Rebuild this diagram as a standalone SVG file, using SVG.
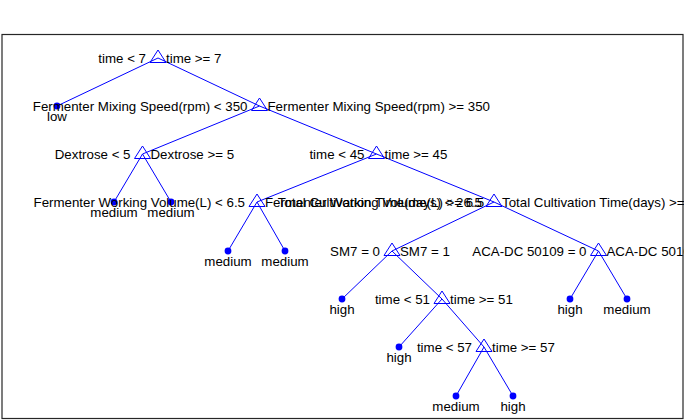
<svg xmlns="http://www.w3.org/2000/svg" xmlns:xlink="http://www.w3.org/1999/xlink" width="684" height="420" viewBox="0 0 684 420">
<style>
.e{stroke:#0000ff;stroke-width:1;fill:none}
.t{fill:none;stroke:#0000ff;stroke-width:1}
.d{fill:#0000ff}
text{font-family:"Liberation Sans",Arial,sans-serif;font-size:13.3px;fill:#000}
.l{text-anchor:end}
.r{text-anchor:start}
.c{text-anchor:middle}
</style>
<defs>
<path id="tri" class="t" d="M0,-8 L8,4.5 L-8,4.5 Z"/>
</defs>
<rect x="2" y="34.5" width="681" height="384" fill="#fff" stroke="#262626" stroke-width="1.2"/>
<g id="connectors">
<path class="e" d="M158,58 L57,106 M158,58 L259.5,106"/>
<path class="e" d="M259.5,106 L142.5,154 M259.5,106 L376.5,154"/>
<path class="e" d="M142.5,154 L114,202 M142.5,154 L171,202"/>
<path class="e" d="M376.5,154 L257,202 M376.5,154 L494,202"/>
<path class="e" d="M257,202 L228,251 M257,202 L285,251"/>
<path class="e" d="M494,202 L392,251 M494,202 L598.5,251"/>
<path class="e" d="M392,251 L342,299 M392,251 L442,299"/>
<path class="e" d="M598.5,251 L570,299 M598.5,251 L627,299"/>
<path class="e" d="M442,299 L399,347 M442,299 L484,347"/>
<path class="e" d="M484,347 L456,396 M484,347 L513,396"/>
</g>
<g id="n0"><use xlink:href="#tri" x="158" y="58"/><text class="l" x="146" y="63">time &lt; 7</text><text class="r" x="166" y="63">time &gt;= 7</text></g>
<g id="n1"><circle class="d" cx="57" cy="106" r="3.4"/><text class="c" x="57" y="121">low</text></g>
<g id="n2"><use xlink:href="#tri" x="259.5" y="106"/><text class="l" x="247.5" y="111">Fermenter Mixing Speed(rpm) &lt; 350</text><text class="r" x="267.5" y="111">Fermenter Mixing Speed(rpm) &gt;= 350</text></g>
<g id="n3"><use xlink:href="#tri" x="142.5" y="154"/><text class="l" x="130.5" y="159">Dextrose &lt; 5</text><text class="r" x="150.5" y="159">Dextrose &gt;= 5</text></g>
<g id="n4"><use xlink:href="#tri" x="376.5" y="154"/><text class="l" x="364.5" y="159">time &lt; 45</text><text class="r" x="384.5" y="159">time &gt;= 45</text></g>
<g id="n5"><circle class="d" cx="114" cy="202" r="3.4"/><text class="c" x="114" y="217">medium</text></g>
<g id="n6"><circle class="d" cx="171" cy="202" r="3.4"/><text class="c" x="171" y="217">medium</text></g>
<g id="n7"><use xlink:href="#tri" x="257" y="202"/><text class="l" x="245" y="207">Fermenter Working Volume(L) &lt; 6.5</text><text class="r" x="265" y="207">Fermenter Working Volume(L) &gt;= 6.5</text></g>
<g id="n8"><use xlink:href="#tri" x="494" y="202"/><text class="l" x="482" y="207">Total Cultivation Time(days) &lt; 26.5</text><text class="r" x="502" y="207">Total Cultivation Time(days) &gt;= 26.5</text></g>
<g id="n9"><circle class="d" cx="228" cy="251" r="3.4"/><text class="c" x="228" y="266">medium</text></g>
<g id="n10"><circle class="d" cx="285" cy="251" r="3.4"/><text class="c" x="285" y="266">medium</text></g>
<g id="n11"><use xlink:href="#tri" x="392" y="251"/><text class="l" x="380" y="256">SM7 = 0</text><text class="r" x="400" y="256">SM7 = 1</text></g>
<g id="n12"><use xlink:href="#tri" x="598.5" y="251"/><text class="l" x="586.5" y="256">ACA-DC 50109 = 0</text><text class="r" x="606.5" y="256">ACA-DC 50109 = 1</text></g>
<g id="n13"><circle class="d" cx="342" cy="299" r="3.4"/><text class="c" x="342" y="314">high</text></g>
<g id="n14"><use xlink:href="#tri" x="442" y="299"/><text class="l" x="430" y="304">time &lt; 51</text><text class="r" x="450" y="304">time &gt;= 51</text></g>
<g id="n15"><circle class="d" cx="570" cy="299" r="3.4"/><text class="c" x="570" y="314">high</text></g>
<g id="n16"><circle class="d" cx="627" cy="299" r="3.4"/><text class="c" x="627" y="314">medium</text></g>
<g id="n17"><circle class="d" cx="399" cy="347" r="3.4"/><text class="c" x="399" y="362">high</text></g>
<g id="n18"><use xlink:href="#tri" x="484" y="347"/><text class="l" x="472" y="352">time &lt; 57</text><text class="r" x="492" y="352">time &gt;= 57</text></g>
<g id="n19"><circle class="d" cx="456" cy="396" r="3.4"/><text class="c" x="456" y="411">medium</text></g>
<g id="n20"><circle class="d" cx="513" cy="396" r="3.4"/><text class="c" x="513" y="411">high</text></g>
</svg>
